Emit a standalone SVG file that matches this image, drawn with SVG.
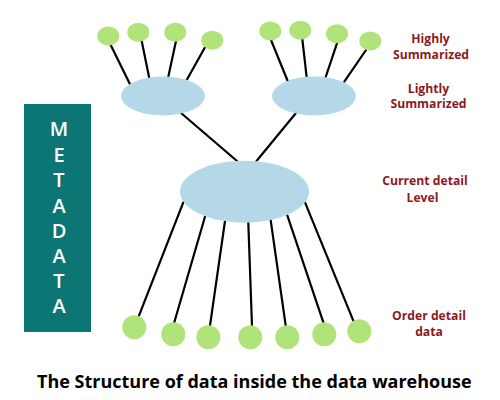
<svg xmlns="http://www.w3.org/2000/svg" width="500" height="400" viewBox="0 0 500 400">
<style>
.leaf{fill:#b1e37b}
.hub{fill:#b4d8e7}
.conn line{stroke:#000;stroke-width:2.2;stroke-linecap:round}
.lbl{font-family:"Open Sans","Noto Sans",sans-serif;font-weight:700;font-size:12.2px;fill:#8b1a1f;text-anchor:middle}
.meta{font-family:"Open Sans","Noto Sans",sans-serif;font-weight:600;font-size:20px;fill:#fff;text-anchor:middle}
.title{font-family:"Open Sans","Noto Sans",sans-serif;font-weight:700;font-size:18px;fill:#000}
</style>
<rect width="500" height="400" fill="#fff"/>
<g id="metadata">
<rect x="24" y="104" width="67" height="228" fill="#0b7673"/>
<text class="meta" x="59" y="136">M</text>
<text class="meta" x="59" y="162">E</text>
<text class="meta" x="59" y="187">T</text>
<text class="meta" x="59" y="213">A</text>
<text class="meta" x="59" y="238">D</text>
<text class="meta" x="59" y="263">A</text>
<text class="meta" x="59" y="288">T</text>
<text class="meta" x="59" y="313">A</text>
</g>
<g id="connectors" class="conn">
<line x1="110.7" y1="45" x2="130" y2="84.3"/>
<line x1="141.7" y1="41" x2="149.3" y2="78.3"/>
<line x1="176" y1="41" x2="168.3" y2="76.7"/>
<line x1="205" y1="47.3" x2="186.7" y2="80"/>
<line x1="271" y1="40" x2="287.7" y2="81"/>
<line x1="302.3" y1="39" x2="306.7" y2="77.3"/>
<line x1="337.3" y1="42.3" x2="325.7" y2="77"/>
<line x1="366.7" y1="49" x2="344.3" y2="81.7"/>
<line x1="181" y1="113" x2="237" y2="161"/>
<line x1="296" y1="113" x2="256.5" y2="161"/>
<line x1="183.3" y1="202.3" x2="139" y2="315.7"/>
<line x1="205" y1="216.7" x2="174" y2="323.3"/>
<line x1="225" y1="221" x2="210" y2="325.7"/>
<line x1="248.3" y1="222.7" x2="252" y2="325.7"/>
<line x1="270.7" y1="220.3" x2="285.7" y2="325.7"/>
<line x1="287.3" y1="215.3" x2="323.7" y2="323.3"/>
<line x1="305" y1="202.3" x2="353.3" y2="320.7"/>
</g>
<g id="hs1"><ellipse class="leaf" cx="108.3" cy="36" rx="11" ry="9.5"/></g>
<g id="hs2"><ellipse class="leaf" cx="138.3" cy="32.3" rx="11" ry="9.5"/></g>
<g id="hs3"><ellipse class="leaf" cx="175.3" cy="32.3" rx="11" ry="9.5"/></g>
<g id="hs4"><ellipse class="leaf" cx="212.3" cy="40.3" rx="11" ry="9.5"/></g>
<g id="hs5"><ellipse class="leaf" cx="270.3" cy="31" rx="11" ry="9.5"/></g>
<g id="hs6"><ellipse class="leaf" cx="300.3" cy="30.3" rx="11" ry="9.5"/></g>
<g id="hs7"><ellipse class="leaf" cx="337" cy="33.7" rx="11" ry="9.5"/></g>
<g id="hs8"><ellipse class="leaf" cx="370.3" cy="41" rx="11" ry="9.5"/></g>
<g id="ls1"><ellipse class="hub" cx="163" cy="96" rx="42" ry="19.5"/></g>
<g id="ls2"><ellipse class="hub" cx="314" cy="96" rx="42" ry="19.5"/></g>
<g id="current"><ellipse class="hub" cx="244.5" cy="191.7" rx="64.5" ry="31"/></g>
<g id="od1"><circle class="leaf" cx="134.3" cy="327.3" r="12"/></g>
<g id="od2"><circle class="leaf" cx="173.3" cy="334.3" r="12"/></g>
<g id="od3"><circle class="leaf" cx="208.3" cy="337.3" r="12"/></g>
<g id="od4"><circle class="leaf" cx="250.3" cy="337.3" r="12"/></g>
<g id="od5"><circle class="leaf" cx="287.3" cy="337.3" r="12"/></g>
<g id="od6"><circle class="leaf" cx="324.3" cy="334.3" r="12"/></g>
<g id="od7"><circle class="leaf" cx="359.3" cy="331.3" r="12"/></g>
<g id="labels">
<text class="lbl" x="430.5" y="43.3">Highly</text>
<text class="lbl" x="431" y="59.3">Summarized</text>
<text class="lbl" x="428.5" y="92.5">Lightly</text>
<text class="lbl" x="428.5" y="108.3">Summarized</text>
<text class="lbl" x="425" y="185">Current detail</text>
<text class="lbl" x="422.5" y="201.5">Level</text>
<text class="lbl" x="429" y="320">Order detail</text>
<text class="lbl" x="429" y="335.5">data</text>
</g>
<text class="title" x="37" y="388">The Structure of data inside the data warehouse</text>
</svg>
